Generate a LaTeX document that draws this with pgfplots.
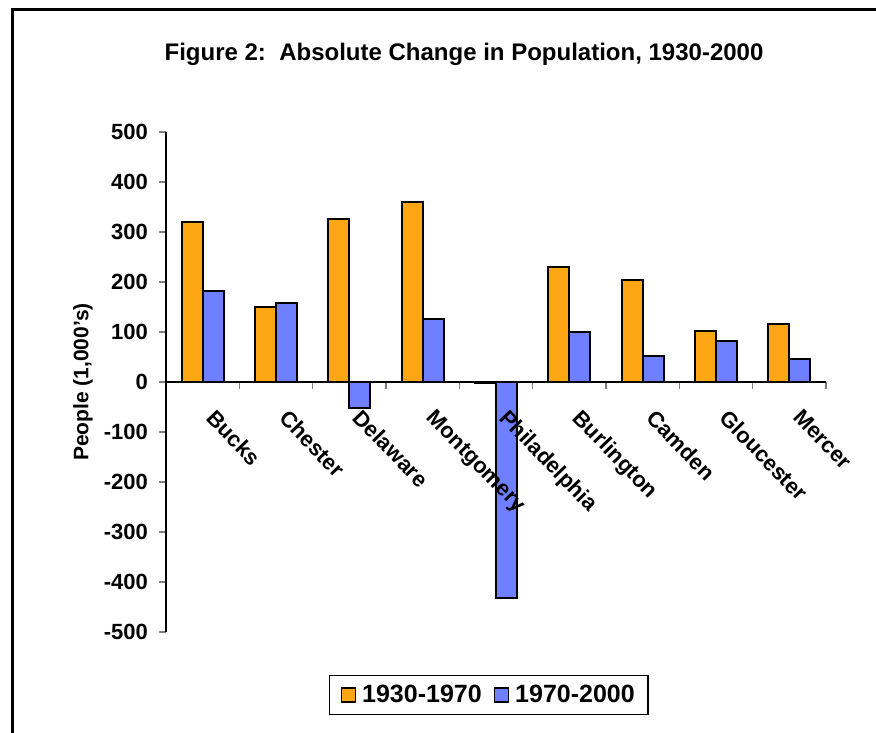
\documentclass[border=0pt]{standalone}
\usepackage{pgfplots}
\pgfplotsset{compat=1.18}
\usepackage{fontspec}
\setmainfont{Liberation Sans}
\definecolor{barorange}{RGB}{255,166,20}
\definecolor{barblue}{RGB}{110,128,255}
\pgfplotsset{sqlegend/.style={legend image code/.code={\draw[##1, line width=1.5pt] (0pt,-7pt) rectangle (14pt,7pt);}}}

\begin{document}
\begin{tikzpicture}[x=1pt,y=1pt]
\useasboundingbox (0,0) rectangle (876,732);
% frame of the figure (runs off the right and bottom edges)
\draw[line width=3pt] (12,-5) -- (12,722) -- (885,722);
\node[font=\fontsize{24}{28}\selectfont\bfseries] at (464,678)
  {Figure 2:\ \ Absolute Change in Population, 1930-2000};

\begin{axis}[
    scale only axis, width=660pt, height=500pt,
    at={(166pt,100pt)}, anchor=south west,
    ybar=0pt, bar width=21pt,
    xmin=-0.5, xmax=8.5, ymin=-500, ymax=500,
    axis x line=middle, axis y line=left,
    axis line style={-, line width=1.6pt},
    axis on top=true,
    clip=false,
    xtick={0,...,8},
    xticklabels={Bucks,Chester,Delaware,Montgomery,Philadelphia,Burlington,Camden,Gloucester,Mercer},
    minor xtick={0.5,1.5,...,8.5},
    major x tick style={draw=none},
    minor x tick style={line width=1.6pt},
    minor tick length=7pt,
    major tick length=7pt,
    tick align=outside,
    ytick={-500,-400,...,500},
    ytick style={line width=1.6pt},
    /pgf/number format/assume math mode=true,
    yticklabel style={font=\fontsize{22}{25}\selectfont\bfseries, anchor=east, inner sep=0pt, xshift=-11pt},
    xticklabel style={font=\fontsize{22}{25}\selectfont\bfseries, inner sep=0pt, xshift=14pt, yshift=-19pt, rotate=-46, anchor=north west},
    ylabel={People (1,000's)},
    ylabel style={font=\fontsize{21}{24}\selectfont\bfseries, at={(axis description cs:-0.126,0.5)}, anchor=center},
    legend columns=2,
    legend style={at={(axis description cs:0.489,-0.126)}, anchor=center,
        font=\fontsize{25}{28}\selectfont\bfseries, draw=black, line width=1.6pt,
        inner xsep=11pt, inner ysep=8pt,
        /tikz/every odd column/.append style={column sep=4pt},
        /tikz/every even column/.append style={column sep=10pt}},
]
\addplot[draw=black, fill=barorange, line width=2pt, sqlegend]
    coordinates {(0,320) (1,151) (2,325) (3,359) (4,-2) (5,230) (6,203) (7,102) (8,117)};
\addlegendentry{1930-1970}
\addplot[draw=black, fill=barblue, line width=2pt, sqlegend]
    coordinates {(0,181) (1,157) (2,-51) (3,126) (4,-432) (5,100) (6,53) (7,83) (8,46)};
\addlegendentry{1970-2000}
\end{axis}
\end{tikzpicture}
\end{document}
